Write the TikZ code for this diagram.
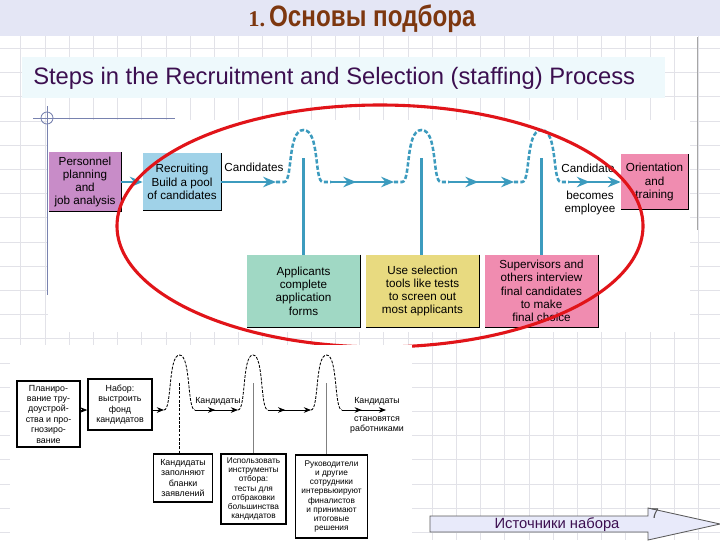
\documentclass[tikz,border=0pt]{standalone}
\usepackage{fontspec}
\usepackage{graphicx}
\setmainfont{Liberation Sans}
\newfontfamily\numfont{Liberation Serif}
\usetikzlibrary{arrows.meta,decorations.markings}

\definecolor{bandlav}{RGB}{228,230,245}
\definecolor{titlebrown}{RGB}{125,55,15}
\definecolor{subbg}{RGB}{238,249,252}
\definecolor{subtext}{RGB}{60,15,80}
\definecolor{gridgray}{RGB}{226,226,232}
\definecolor{flowteal}{RGB}{60,155,190}
\definecolor{planpurple}{RGB}{200,140,200}
\definecolor{recblue}{RGB}{160,210,232}
\definecolor{applgreen}{RGB}{160,216,196}
\definecolor{selyellow}{RGB}{232,218,128}
\definecolor{suppink}{RGB}{240,140,176}
\definecolor{ovalred}{RGB}{225,20,25}
\definecolor{markblue}{RGB}{120,130,175}
\definecolor{arrowfill}{RGB}{232,234,250}

\tikzset{
  ubox/.style={inner sep=0pt, align=center, font=\fontsize{8.3}{9.4}\selectfont},
  utext/.style={inner sep=0pt, align=center, font=\fontsize{8.3}{9.4}\selectfont},
  lbox/.style={draw, line width=1pt, fill=white, inner sep=0pt, align=center, font=\fontsize{5.9}{6.5}\selectfont},
  lbig/.style={font=\fontsize{6.3}{7.4}\selectfont},
  ltext/.style={inner sep=0pt, align=center, font=\fontsize{6.3}{7}\selectfont},
  flow/.style={draw=flowteal, line width=1.8pt},
  flowarr/.style={flow, -{Stealth[length=3.2mm,width=2.6mm]}},
  midhead/.style={postaction={decorate}, decoration={markings,
      mark=at position #1 with {\arrow{Stealth[length=3.2mm,width=2.6mm]}}}},
  bumpline/.style={flow, dash pattern=on 3pt off 1.5pt},
  lline/.style={draw=black, line width=0.6pt},
  larr/.style={lline, -{Stealth[length=1.8mm,width=1.4mm]}},
  lmidhead/.style={postaction={decorate}, decoration={markings,
      mark=at position #1 with {\arrow{Stealth[length=1.8mm,width=1.4mm]}}}},
  lbump/.style={lline, dash pattern=on 2pt off 1pt},
  gridline/.style={draw=gridgray, line width=0.5pt}
}

\begin{document}
\begin{tikzpicture}[x=0.025cm, y=-0.025cm]
\useasboundingbox (0,0) rectangle (720,540);
\fill[white] (0,0) rectangle (720,540);
\foreach \i in {0,...,29}
    \draw[gridline] ({20.8+24.2*\i},35) -- ({20.8+24.2*\i},540);
\foreach \i in {2,...,22}
    \draw[gridline] (0,{24.2*\i}) -- (720,{24.2*\i});
\fill[bandlav] (0,0) rectangle (720,36);
\node (title) at (362,19) {\color{titlebrown}{\numfont\bfseries\fontsize{16}{16}\selectfont 1.}\
    \scalebox{0.82}[1]{\bfseries\fontsize{21}{21}\selectfont Основы подбора}};
\fill[subbg] (22,57) rectangle (665,98);
\node[anchor=west, inner sep=0pt] (subtitle) at (33,78)
    {\fontsize{16.9}{16.9}\selectfont\color{subtext}Steps in the Recruitment and Selection (staffing) Process};

% upper figure
\fill[white] (48,120) rectangle (690,332);
\draw[markblue, line width=0.6pt] (33,118) -- (175,118);
\draw[markblue, line width=0.6pt] (47,106) -- (47,295);
\draw[markblue, line width=0.6pt] (47,118) circle (6);
\draw[gray!70, line width=0.6pt] (697,37) -- (697,230);

\node[ubox, fill=planpurple, minimum width=1.8cm, minimum height=1.475cm] (plan) at (85,182)
    {Personnel\\planning\\and\\job analysis};
\node[ubox, fill=recblue, minimum width=1.95cm, minimum height=1.425cm] (recr) at (182,182)
    {Recruiting\\Build a pool\\of candidates};
\node[ubox, fill=applgreen, minimum width=2.825cm, minimum height=1.8cm] (appl) at (303.5,291)
    {Applicants\\complete\\application\\forms};
\node[ubox, fill=selyellow, minimum width=2.825cm, minimum height=1.8cm] (sel) at (422.5,291)
    {Use selection\\tools like tests\\to screen out\\most applicants};
\node[ubox, fill=suppink, minimum width=2.825cm, minimum height=1.8cm] (sup) at (541.5,291)
    {Supervisors and\\others interview\\final candidates\\to make\\final choice};
\node[ubox, fill=suppink, minimum width=1.675cm, minimum height=1.375cm] (orient) at (654.5,182)
    {Orientation\\and\\training};
\foreach \b in {plan,recr,appl,sel,sup,orient}
    \draw[black, line width=0.8pt] (\b.north east) -- (\b.south east) -- (\b.south west);

\foreach \n/\bl/\br in {1/284/323, 2/402/441, 3/522/561} {
    \coordinate (b\n a) at (\bl-8,182);
    \coordinate (b\n d) at (\br+8,182);
    \coordinate (b\n s) at ({(\bl+\br)/2},158);
    \draw[bumpline] (b\n a) -- (\bl,182) .. controls (\bl+9,182) and (\bl+3,130)
        .. ({(\bl+\br)/2},130) .. controls (\br-3,130) and (\br-9,182) .. (\br,182) -- (b\n d);
}
\draw[flowarr] (plan) -- (recr);
\draw[flowarr] (recr) -- (b1a);
\draw[flowarr, midhead=0.4] (b1d) -- (b2a);
\draw[flowarr, midhead=0.45] (b2d) -- (b3a);
\draw[flowarr, midhead=0.4] (b3d) -- (orient);
\draw[flow] (b1s) -- (b1s |- appl.north);
\draw[flow] (b2s) -- (b2s |- sel.north);
\draw[flow] (b3s) -- (b3s |- sup.north);
\node[utext] (cand) at (254,167) {Candidates};
\node[utext] (cand2) at (588,168) {Candidate};
\node[utext] (becomes) at (590,203) {becomes\\employee};

\draw[ovalred, line width=2.2pt] (380,226) ellipse (263 and 121);

% lower figure
\fill[white] (10,345) rectangle (412,540);
\node[lbox, lbig, minimum width=1.575cm, minimum height=1.65cm] (l1) at (48.5,414)
    {Планиро-\\вание тру-\\доустрой-\\ства и про-\\гнозиро-\\вание};
\node[lbox, lbig, minimum width=1.6cm, minimum height=1.275cm] (l2) at (120,404.5)
    {Набор:\\выстроить\\фонд\\кандидатов};
\node[lbox, lbig, minimum width=1.475cm, minimum height=1.2cm] (l3) at (183,478)
    {Кандидаты\\заполняют\\бланки\\заявлений};
\node[lbox, minimum width=1.625cm, minimum height=1.75cm] (l4) at (253.5,489)
    {Использовать\\инструменты\\отбора:\\тесты для\\отбраковки\\большинства\\кандидатов};
\node[lbox, minimum width=1.8cm, minimum height=2.075cm] (l5) at (331.5,496.5)
    {Руководители\\и другие\\сотрудники\\интервьюируют\\финалистов\\и принимают\\итоговые\\решения};

\coordinate (ly) at (0,410);
\foreach \n/\bl/\br in {1/164/195, 2/238/268, 3/311/342} {
    \coordinate (lb\n w) at (\bl,410);
    \coordinate (lb\n e) at (\br,410);
    \coordinate (lb\n s) at ({(\bl+\br)/2},383);
    \draw[lbump] (lb\n w) .. controls (\bl+8,410) and (\bl+4,355)
        .. ({(\bl+\br)/2},355) .. controls (\br-4,355) and (\br-8,410) .. (lb\n e);
}
\coordinate (lend) at (386,410);
\draw[larr] (l1.east |- ly) -- (l2.west |- ly);
\draw[larr] (l2.east |- ly) -- (lb1w);
\draw[larr, lmidhead=0.47] (lb1e) -- (lb2w);
\draw[larr, lmidhead=0.4] (lb2e) -- (lb3w);
\draw[larr, lmidhead=0.45] (lb3e) -- (lend);
\draw[lbump] (lb1s) -- (lb1s |- l3.north);
\draw[draw=gray, line width=0.5pt] (lb2s) -- (lb2s |- l4.north);
\draw[draw=gray, line width=0.5pt] (lb3s) -- (lb3s |- l5.north);
\node[ltext] (lc1) at (218,401) {Кандидаты};
\node[ltext] (lc2) at (377,401) {Кандидаты};
\node[ltext] (lc3) at (377,425) {становятся\\работниками};

% source arrow
\draw[draw=black!65, fill=arrowfill, line width=0.6pt] (430,516) -- (648,516) -- (648,508) -- (720,524)
    -- (648,540) -- (648,532) -- (430,532) -- cycle;
\node[inner sep=0pt] (src) at (557,525) {\fontsize{10.5}{10.5}\selectfont\color{subtext}Источники набора};
\node[inner sep=0pt] (pagenum) at (655,514) {\fontsize{10}{10}\selectfont\color{black!70}7};
\end{tikzpicture}
\end{document}
